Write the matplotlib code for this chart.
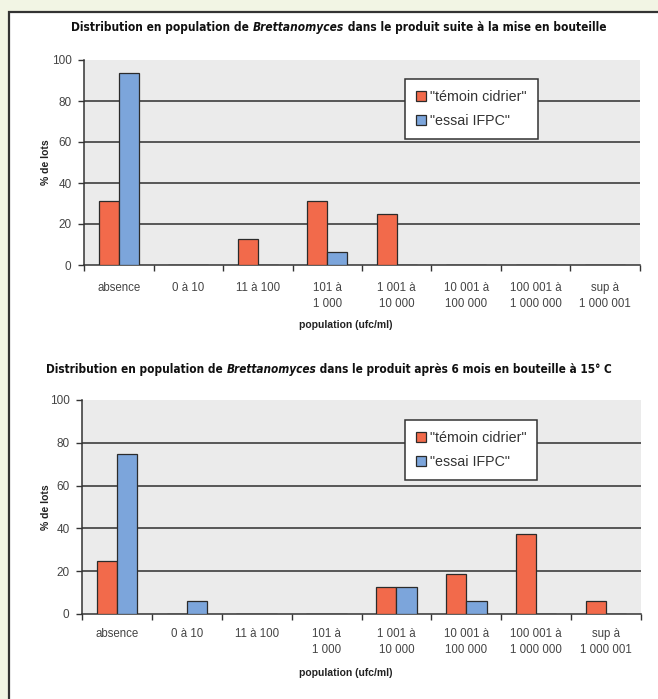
import matplotlib
matplotlib.use("Agg")
import matplotlib.pyplot as plt
import numpy as np
from matplotlib import font_manager
from matplotlib.patches import Rectangle

categories = ["absence", "0 à 10", "11 à 100", "101 à\n1 000", "1 001 à\n10 000",
              "10 001 à\n100 000", "100 001 à\n1 000 000", "sup à\n1 000 001"]
series_names = ['"témoin cidrier"', '"essai IFPC"']
temoin_bottling = [31.25, 0, 12.5, 31.25, 25, 0, 0, 0]
essai_bottling = [93.75, 0, 0, 6.25, 0, 0, 0, 0]
temoin_6months = [25, 0, 0, 0, 12.5, 18.75, 37.5, 6.25]
essai_6months = [75, 6.25, 0, 0, 12.5, 6.25, 0, 0]
yticks = [0, 20, 40, 60, 80, 100]
title1 = ("Distribution en population de ", "Brettanomyces", " dans le produit suite à la mise en bouteille")
title2 = ("Distribution en population de ", "Brettanomyces", " dans le produit après 6 mois en bouteille à 15° C")
xlabel = "population (ufc/ml)"
ylabel = "% de lots"

names = {f.name for f in font_manager.fontManager.ttflist}
narrow = None
for f in font_manager.fontManager.ttflist:
    if ("Narrow" in f.name or "Condensed" in f.name or f.stretch in ("condensed", "semi-condensed")):
        narrow = f
        break
if narrow is not None:
    title_family = narrow.name
    title_stretch = narrow.stretch
else:
    title_family = "Liberation Sans" if "Liberation Sans" in names else "DejaVu Sans"
    title_stretch = "normal"
body_family = "Liberation Sans" if "Liberation Sans" in names else "DejaVu Sans"

RED = "#f26a4b"
BLUE = "#7ca5db"
EDGE = "#2b2b2b"

W, H = 658, 699
fig = plt.figure(figsize=(W / 100, H / 100), dpi=100)
fig.patch.set_facecolor("#f2f5e4")
fig.patches.append(Rectangle((9 / W, -0.05), 1.1, (H - 12) / H + 0.05, transform=fig.transFigure,
                             facecolor="white", edgecolor="#333333", linewidth=1.6, zorder=-5))


def draw_chart(rect, red_vals, blue_vals, xlabel_y, ylabel_x, xpad):
    ax = fig.add_axes(rect)
    ax.set_zorder(2)
    ax.set_facecolor("#ebebeb")
    x = np.arange(len(categories))
    w = 0.29
    ax.bar(x - w / 2, red_vals, w, color=RED, edgecolor=EDGE, linewidth=0.9, label=series_names[0], zorder=3)
    ax.bar(x + w / 2, blue_vals, w, color=BLUE, edgecolor=EDGE, linewidth=0.9, label=series_names[1], zorder=3)
    ax.set_xlim(-0.5, len(categories) - 0.5)
    ax.set_ylim(0, 100)
    ax.set_yticks(yticks)
    for yv in yticks[1:-1]:
        ax.axhline(yv, color="#2e2e2e", linewidth=1.1, zorder=1)
    ax.set_xticks(x)
    ax.set_xticklabels(categories, fontsize=8.3, family=body_family, color="#444444", linespacing=1.45)
    ax.set_xticks(np.arange(len(categories) + 1) - 0.5, minor=True)
    ax.tick_params(axis="x", which="major", length=0, pad=xpad)
    ax.tick_params(axis="x", which="minor", length=4, width=1, color="#333333", direction="out")
    ax.tick_params(axis="y", length=4, width=1, color="#333333", labelsize=8.5, labelcolor="#444444", pad=5)
    for lab in ax.get_yticklabels():
        lab.set_family(body_family)
    for s in ["top", "right"]:
        ax.spines[s].set_visible(False)
    for s in ["left", "bottom"]:
        ax.spines[s].set_color("#333333")
        ax.spines[s].set_linewidth(1.1)
    leg = ax.legend(loc="upper left", bbox_to_anchor=(0.578, 0.905), frameon=True, fancybox=False,
                    edgecolor="#333333", facecolor="white", framealpha=1,
                    prop={"family": body_family, "size": 10.3}, handlelength=0.7, handleheight=0.7,
                    handletextpad=0.3, borderpad=0.75, labelspacing=0.7, borderaxespad=0)
    leg.get_frame().set_linewidth(1.1)
    leg.set_zorder(5)
    for t in leg.get_texts():
        t.set_color("#333333")
    fig.text(0.526, xlabel_y, xlabel, ha="center", va="center", fontsize=7.5, fontweight="bold",
             family=body_family, color="#222222")
    fig.text(ylabel_x, rect[1] + rect[3] * 0.5, ylabel, ha="center", va="center", rotation=90,
             fontsize=7.5, fontweight="bold", family=body_family, color="#222222")
    return ax


ax1 = draw_chart([84 / W, 1 - 265 / H, 556 / W, 205 / H], temoin_bottling, essai_bottling,
                 1 - 325 / H, 46 / W, 12)
ax2 = draw_chart([82 / W, 1 - 614 / H, 559 / W, 214 / H], temoin_6months, essai_6months,
                 1 - 673 / H, 46 / W, 10)


def composite_title(parts, cx, cy, target_width):
    fig.canvas.draw()
    r = fig.canvas.get_renderer()
    styles = ["normal", "italic", "normal"]
    texts = []
    for p, st in zip(parts, styles):
        t = fig.text(0, cy / H, p, ha="left", va="center", fontsize=12.5, fontweight="heavy",
                     style=st, family=title_family, stretch=title_stretch, color="#111111")
        texts.append(t)
    widths = [t.get_window_extent(r).width for t in texts]
    total = sum(widths)
    scale = target_width / total
    fs = 12.5 * min(scale, 1.15)
    for t in texts:
        t.set_fontsize(fs)
    widths = [t.get_window_extent(r).width for t in texts]
    total = sum(widths)
    x0 = cx - total / 2
    for t, wd in zip(texts, widths):
        t.set_x(x0 / W)
        x0 += wd


composite_title(title1, 339, H - 28, 535)
composite_title(title2, 329, H - 369, 567)

fig.savefig("out.png", dpi=100, facecolor=fig.get_facecolor())
